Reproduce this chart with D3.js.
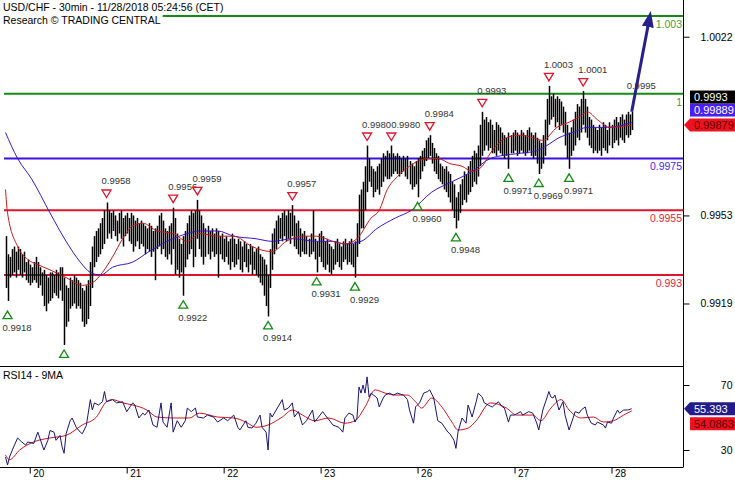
<!DOCTYPE html>
<html><head><meta charset="utf-8">
<script src="https://cdn.jsdelivr.net/npm/d3@7"></script>
<style>
body{margin:0;background:#fff}
svg{display:block}
text{font-family:"Liberation Sans",Arial,sans-serif}
</style>
</head><body>
<svg id="c" width="735" height="480"></svg>
<script>
// ---------- DATA ----------
const highs = [
0.9945,0.9938,0.9937,0.9940,0.9941,0.9939,0.9941,0.9940,0.9938,0.9939,
0.9935,0.9936,0.9934,0.9933,0.9935,0.9937,0.9935,0.9933,0.9931,0.9932,
0.9930,0.9929,0.9931,0.9931,0.9930,0.9932,0.9931,0.9933,0.9933,0.9929,
0.9926,0.9925,0.9929,0.9928,0.9930,0.9929,0.9928,0.9927,0.9925,0.9924,
0.9926,0.9928,0.9935,0.9941,0.9945,0.9947,0.9948,0.9950,0.9952,0.9955,
0.9958,0.9955,0.9954,0.9955,0.9953,0.9951,0.9954,0.9955,0.9952,0.9953,
0.9954,0.9952,0.9954,0.9953,0.9951,0.9952,0.9950,0.9951,0.9950,0.9949,
0.9948,0.9950,0.9949,0.9947,0.9948,0.9949,0.9953,0.9954,0.9951,0.9948,
0.9947,0.9949,0.9950,0.9956,0.9952,0.9946,0.9944,0.9942,0.9945,0.9947,
0.9950,0.9953,0.9955,0.9954,0.9955,0.9959,0.9955,0.9953,0.9950,0.9948,
0.9949,0.9947,0.9948,0.9946,0.9948,0.9947,0.9945,0.9946,0.9944,0.9945,
0.9943,0.9944,0.9946,0.9944,0.9942,0.9944,0.9943,0.9941,0.9943,0.9942,
0.9940,0.9942,0.9941,0.9939,0.9940,0.9941,0.9938,0.9937,0.9936,0.9934,
0.9930,0.9940,0.9946,0.9948,0.9951,0.9953,0.9952,0.9954,0.9955,0.9953,
0.9955,0.9954,0.9957,0.9953,0.9950,0.9951,0.9948,0.9946,0.9947,0.9945,
0.9944,0.9946,0.9955,0.9944,0.9943,0.9946,0.9947,0.9945,0.9943,0.9944,
0.9942,0.9941,0.9940,0.9943,0.9944,0.9942,0.9941,0.9943,0.9944,0.9942,
0.9943,0.9944,0.9942,0.9943,0.9950,0.9961,0.9963,0.9966,0.9972,0.9980,
0.9975,0.9972,0.9971,0.9970,0.9972,0.9973,0.9975,0.9977,0.9976,0.9978,
0.9977,0.9980,0.9977,0.9976,0.9977,0.9976,0.9975,0.9976,0.9975,0.9976,
0.9974,0.9973,0.9972,0.9974,0.9975,0.9976,0.9978,0.9979,0.9982,0.9983,
0.9984,0.9981,0.9979,0.9977,0.9976,0.9973,0.9972,0.9971,0.9972,0.9970,
0.9969,0.9966,0.9965,0.9960,0.9962,0.9965,0.9967,0.9970,0.9969,0.9972,
0.9974,0.9976,0.9978,0.9977,0.9980,0.9988,0.9993,0.9990,0.9991,0.9989,
0.9990,0.9988,0.9986,0.9989,0.9988,0.9987,0.9985,0.9984,0.9983,0.9985,
0.9984,0.9985,0.9986,0.9985,0.9984,0.9986,0.9985,0.9984,0.9986,0.9987,
0.9985,0.9984,0.9985,0.9983,0.9982,0.9981,0.9984,0.9990,0.9998,1.0003,
0.9999,1.0000,0.9998,0.9999,0.9998,0.9997,0.9995,0.9993,0.9988,0.9985,
0.9987,0.9990,0.9993,0.9996,0.9995,0.9998,1.0001,0.9998,0.9995,0.9991,
0.9990,0.9988,0.9987,0.9986,0.9988,0.9987,0.9989,0.9988,0.9986,0.9989,
0.9988,0.9990,0.9991,0.9989,0.9991,0.9992,0.9990,0.9992,0.9993,0.9992,0.9993];

const lows = [
0.9925,0.9920,0.9929,0.9930,0.9931,0.9929,0.9932,0.9930,0.9929,0.9931,
0.9928,0.9927,0.9926,0.9927,0.9928,0.9927,0.9925,0.9926,0.9922,0.9918,
0.9916,0.9919,0.9920,0.9921,0.9923,0.9922,0.9921,0.9924,0.9920,0.9903,
0.9910,0.9912,0.9917,0.9918,0.9919,0.9917,0.9918,0.9917,0.9912,0.9910,
0.9911,0.9913,0.9918,0.9925,0.9933,0.9935,0.9937,0.9938,0.9940,0.9942,
0.9944,0.9946,0.9944,0.9947,0.9945,0.9943,0.9946,0.9944,0.9941,0.9945,
0.9946,0.9943,0.9942,0.9939,0.9941,0.9943,0.9940,0.9942,0.9941,0.9938,
0.9940,0.9939,0.9937,0.9939,0.9928,0.9940,0.9941,0.9938,0.9940,0.9937,
0.9936,0.9938,0.9934,0.9940,0.9930,0.9932,0.9929,0.9931,0.9922,0.9933,
0.9936,0.9938,0.9940,0.9933,0.9937,0.9944,0.9940,0.9937,0.9934,0.9937,
0.9938,0.9936,0.9939,0.9937,0.9938,0.9929,0.9938,0.9936,0.9935,0.9937,
0.9934,0.9932,0.9935,0.9933,0.9934,0.9936,0.9932,0.9931,0.9935,0.9933,
0.9931,0.9934,0.9930,0.9932,0.9930,0.9929,0.9927,0.9926,0.9922,0.9918,
0.9914,0.9925,0.9932,0.9938,0.9940,0.9942,0.9944,0.9943,0.9945,0.9943,
0.9944,0.9942,0.9945,0.9941,0.9940,0.9938,0.9937,0.9939,0.9938,0.9938,
0.9937,0.9938,0.9939,0.9936,0.9931,0.9937,0.9935,0.9933,0.9932,0.9934,
0.9931,0.9930,0.9932,0.9934,0.9935,0.9933,0.9932,0.9935,0.9936,0.9934,
0.9935,0.9934,0.9933,0.9929,0.9937,0.9942,0.9948,0.9948,0.9955,0.9962,
0.9966,0.9964,0.9960,0.9962,0.9963,0.9961,0.9964,0.9966,0.9968,0.9967,
0.9967,0.9968,0.9969,0.9970,0.9969,0.9968,0.9969,0.9970,0.9968,0.9967,
0.9965,0.9963,0.9964,0.9965,0.9960,0.9967,0.9970,0.9972,0.9974,0.9975,
0.9976,0.9973,0.9970,0.9969,0.9967,0.9966,0.9965,0.9963,0.9962,0.9960,
0.9958,0.9955,0.9952,0.9948,0.9951,0.9954,0.9957,0.9959,0.9958,0.9961,
0.9962,0.9964,0.9966,0.9965,0.9968,0.9972,0.9976,0.9978,0.9980,0.9978,
0.9979,0.9977,0.9977,0.9976,0.9978,0.9977,0.9976,0.9975,0.9976,0.9971,
0.9977,0.9977,0.9978,0.9976,0.9977,0.9978,0.9977,0.9976,0.9977,0.9978,
0.9976,0.9975,0.9976,0.9973,0.9969,0.9971,0.9973,0.9976,0.9982,0.9988,
0.9990,0.9991,0.9987,0.9989,0.9986,0.9988,0.9985,0.9980,0.9975,0.9971,
0.9976,0.9978,0.9980,0.9983,0.9982,0.9985,0.9988,0.9985,0.9983,0.9980,
0.9979,0.9977,0.9978,0.9977,0.9978,0.9976,0.9979,0.9978,0.9977,0.9980,
0.9979,0.9981,0.9982,0.9980,0.9983,0.9982,0.9981,0.9984,0.9983,0.9984,0.9986];

const lastClose = 0.9993;

// moving averages: [bar index, value]
const maFast = [[0,0.9963],[1,0.9954],[6,0.9941],[11,0.9936],[16,0.9934],[22,0.9932],[30,0.9929],[38,0.9926],[43,0.9927],[48,0.9931],[53,0.9937],[58,0.9944],[63,0.9949],[68,0.9950],[75,0.9947],[83,0.9946],[90,0.9943],[96,0.9946],[105,0.9945],[113,0.9945],[122,0.9941],[132,0.9939],[139,0.9943],[147,0.9945],[154,0.9945],[162,0.9943],[168,0.9942],[174,0.9944],[181,0.9952],[185,0.9955],[189,0.9963],[194,0.9968],[200,0.9972],[209,0.9975],[214,0.9975],[220,0.9973],[226,0.9972],[231,0.9970],[236,0.9972],[240,0.9977],[248,0.9983],[255,0.9984],[261,0.9983],[266,0.9982],[273,0.9987],[279,0.9989],[284,0.9991],[288,0.9993],[293,0.9990],[299,0.9987],[310,0.99879]];
const maSlow = [[0,0.9985],[6,0.9975],[13,0.9967],[22,0.9954],[30,0.9943],[37,0.9935],[42,0.9931],[47,0.9930],[53,0.9933],[63,0.9935],[71,0.9939],[80,0.9943],[90,0.9946],[96,0.9947],[105,0.9947],[113,0.9945],[124,0.9944],[132,0.9943],[142,0.9944],[154,0.9943],[162,0.9943],[168,0.9942],[176,0.9943],[184,0.9948],[193,0.9952],[201,0.9955],[211,0.9962],[221,0.9966],[231,0.9970],[240,0.9975],[245,0.9976],[255,0.9977],[263,0.9978],[268,0.9980],[274,0.9983],[281,0.9985],[288,0.9987],[298,0.9987],[310,0.99889]];

// pivot markers (type H = high, L = low, N = label only)
const markerIdx  = [1,29,50,83,88,95,130,142,154,173,179,191,204,210,223,236,249,264,269,279,286,310];
const markerType = ["L","L","H","H","L","H","L","H","L","L","H","H","L","H","L","H","L","L","H","L","H","N"];
const markerVal  = [0.9918,0.9903,0.9958,0.9956,0.9922,0.9959,0.9914,0.9957,0.9931,0.9929,0.9980,0.9980,0.9960,0.9984,0.9948,0.9993,0.9971,0.9969,1.0003,0.9971,1.0001,0.9995];

// horizontal levels
const levelVals   = [1.003, 1.0, 0.9975, 0.9955, 0.993];
const levelLabels = ["1.003","1","0.9975","0.9955","0.993"];
const levelKind   = ["res","res","pivot","sup","sup"];
const targetVal = 1.003;
const targetIdx = 319;

// RSI
const rsi = [[0,25.7],[1,20.8],[2,25.7],[4,31.8],[6,37.4],[8,35],[10,33],[11,35],[14,34],[16,41],[17,37.4],[19,30],[21,36],[22,42],[24,41],[25,36],[27,39],[28,32],[29,28],[30,40],[32,48],[33,49.7],[35,44],[37,41],[38,40],[40,45],[42,61],[43,54.6],[44,59],[46,57.7],[48,59.7],[49,66],[50,59.7],[53,61],[55,59],[58,59.7],[60,53.6],[63,59],[64,57.7],[66,49.7],[68,52.7],[69,51.5],[71,54.6],[73,45.4],[75,44],[77,59],[78,47.2],[80,44],[82,59],[83,41],[85,48],[87,44],[89,48],[90,55.8],[92,53.6],[94,55.8],[95,50.3],[98,49.7],[100,51.5],[103,50.3],[105,47.2],[108,49.7],[110,48],[113,51.5],[115,44],[116,42.3],[119,48],[120,44],[122,43.5],[124,46.5],[126,51.5],[127,44],[129,41],[130,30],[131,52.7],[132,50.3],[134,54.6],[137,61],[138,54.6],[140,55.8],[142,59],[143,50.3],[145,53.6],[147,45.4],[149,48],[152,54.6],[153,47.2],[155,50.3],[157,53.6],[159,50.3],[161,47.2],[162,45.4],[165,44],[167,41],[168,49.7],[170,52.7],[172,51.5],[173,47.2],[174,49.7],[175,68.8],[176,65],[177,70],[178,65],[179,75],[180,62.6],[181,65],[184,62],[185,56.5],[187,62],[188,63.8],[190,65],[192,63.8],[194,65],[197,63.8],[199,61],[200,54.6],[202,46.5],[203,56.5],[205,59],[207,65],[209,66],[210,67],[212,62],[214,48],[216,46.5],[219,41],[220,40],[222,36],[223,31],[224,41],[226,49.7],[228,46.5],[229,57.7],[231,50.3],[233,59.7],[234,65],[236,62.6],[237,59],[240,57],[241,56.5],[244,59.7],[246,56.5],[247,55.8],[249,47.2],[250,51.5],[252,51.5],[255,53.6],[256,51.5],[259,53.6],[261,52.7],[263,46.5],[264,42.3],[266,54.6],[268,62],[269,66],[270,62.6],[271,62],[272,63.8],[274,54.6],[276,59.7],[277,51.5],[279,42.3],[281,49.7],[282,53.6],[284,52.7],[285,54.6],[287,56.5],[288,51.5],[290,46.5],[292,45.4],[293,47.2],[296,45.4],[297,43.5],[298,47.2],[300,46.5],[301,49.7],[303,54.6],[304,52.7],[306,54.6],[308,54.6],[310,55.393]];
const rsiMA = [[0,27],[2,24],[7,30],[14,35],[22,37.4],[30,39],[38,45.4],[45,50.3],[50,59.7],[53,61],[58,59],[63,57.7],[70,54.6],[75,50.3],[83,49.7],[91,49.7],[96,52.7],[105,50.3],[113,49.7],[119,47.2],[124,44],[130,45.4],[137,50.3],[142,54.6],[147,51.5],[153,48],[160,49.7],[168,46.5],[173,48],[178,56.5],[183,67],[188,65],[193,63.8],[199,63.8],[203,59.7],[206,55.8],[211,62],[216,56.5],[221,47.2],[224,42.3],[229,43.5],[233,48],[240,59],[248,55.8],[253,51.5],[261,51.5],[265,48],[270,55.8],[275,61],[279,54.6],[285,49.7],[291,50.3],[296,47.2],[301,48],[306,51.5],[310,54.0863]];
const rsiLast = 55.393, rsiMALast = 54.0863;

// axes
const dayTicks  = [12,60,108,156,204,252,300];
const dayLabels = ["20","21","22","23","26","27","28"];
const priceTicks = [1.0022, 0.9953, 0.9919];
const rsiTicks = [70, 30];

const title1 = "USD/CHF - 30min - 11/28/2018 05:24:56 (CET)";
const title2 = "Research \u00A9 TRADING CENTRAL";
const rsiTitle = "RSI14 - 9MA";

// ---------- DRAW ----------
const svg = d3.select("#c");
const W = 735, AX = 683, MAIN_B = 366, RSI_B = 467;
const COL = {res:"#168a16", pivot:"#3c10dc", sup:"#e0142c"};
const TXT = {res:"#3f9f3f", pivot:"#4a2ae6", sup:"#e8243c"};

const x = d3.scaleLinear().domain([0, 310]).range([5.5, 631.7]);
const y = d3.scaleLinear().domain([0.993, 1.003]).range([275, 16]);
const yR = d3.scaleLinear().domain([30, 70]).range([450, 385]);

const defs = svg.append("defs");
defs.append("clipPath").attr("id","cm").append("rect").attr("x",0).attr("y",0).attr("width",AX).attr("height",MAIN_B);
defs.append("clipPath").attr("id","cr").append("rect").attr("x",0).attr("y",MAIN_B+1).attr("width",AX).attr("height",RSI_B-MAIN_B-1);
defs.append("marker").attr("id","ah").attr("viewBox","0 0 16 12").attr("refX",11).attr("refY",6)
  .attr("markerWidth",16).attr("markerHeight",12).attr("markerUnits","userSpaceOnUse").attr("orient","auto")
  .append("path").attr("d","M0,0L16,6L0,12Z").attr("fill","#27208c");

const main = svg.append("g").attr("clip-path","url(#cm)");

// levels
main.selectAll("line.lvl").data(levelVals).join("line")
  .attr("x1",4).attr("x2",AX).attr("y1",d=>y(d)).attr("y2",d=>y(d))
  .attr("stroke",(d,i)=>COL[levelKind[i]]).attr("stroke-width",2);

// bars
main.append("g").selectAll("line").data(highs).join("line")
  .attr("x1",(d,i)=>Math.round(x(i))+0.5).attr("x2",(d,i)=>Math.round(x(i))+0.5)
  .attr("y1",d=>y(d)).attr("y2",(d,i)=>y(lows[i]))
  .attr("stroke","#000").attr("stroke-width",1.5);

// MAs
const ln = d3.line().x(d=>x(d[0])).y(d=>y(d[1])).curve(d3.curveMonotoneX);
main.append("path").attr("d",ln(maSlow)).attr("fill","none").attr("stroke","#3a16c8").attr("stroke-width",1);
main.append("path").attr("d",ln(maFast)).attr("fill","none").attr("stroke","#c81a1a").attr("stroke-width",1);

// markers
const fmt = d3.format(".4f");
let prev = null;
markerIdx.forEach((bi,k)=>{
  const cx = x(bi), vy = y(markerVal[k]), t = markerType[k];
  if (t==="H"){
    const cy = vy-9;
    main.append("path").attr("d",`M${cx-4.5},${cy-3.5}L${cx+4.5},${cy-3.5}L${cx},${cy+4}Z`)
      .attr("fill","#fff").attr("stroke","#e0142c").attr("stroke-width",1.3);
  } else if (t==="L"){
    const cy = vy+9;
    main.append("path").attr("d",`M${cx-4.5},${cy+3.5}L${cx+4.5},${cy+3.5}L${cx},${cy-4}Z`)
      .attr("fill","#fff").attr("stroke","#168a16").attr("stroke-width",1.3);
  }
  const ly = t==="L" ? vy+25 : vy-18;
  if (ly > MAIN_B - 2) return; // label falls outside the price panel
  let lx = cx-5;
  if (prev && Math.abs(prev.y-ly) < 10 && lx < prev.right) lx = prev.right;
  const tx = main.append("text").attr("x",lx).attr("y",ly)
    .attr("font-size","9.5px").attr("fill","#333").text(fmt(markerVal[k]));
  prev = {y: ly, right: lx + tx.node().getComputedTextLength()};
});

// target arrow
main.append("line").attr("x1",x(310)).attr("y1",y(lastClose)).attr("x2",x(targetIdx)).attr("y2",y(targetVal))
  .attr("stroke","#27208c").attr("stroke-width",3).attr("marker-end","url(#ah)");

// level labels
svg.selectAll("text.lvl").data(levelVals).join("text")
  .attr("x",AX-1).attr("y",d=>y(d)+12).attr("text-anchor","end")
  .attr("font-size","10.5px").attr("fill",(d,i)=>TXT[levelKind[i]]).text((d,i)=>levelLabels[i]);

// header
const hdr = svg.append("g");
const t2 = hdr.append("text").attr("x",3).attr("y",24).attr("font-size","10.5px").attr("fill","#000").text(title2);
const bb = t2.node().getBBox();
hdr.insert("rect", () => t2.node()).attr("x",0).attr("y",bb.y).attr("width",bb.x+bb.width+2).attr("height",bb.height).attr("fill","#fff");
hdr.append("text").attr("x",3).attr("y",11).attr("font-size","10.5px").attr("fill","#000").text(title1);

// RSI panel
const rg = svg.append("g").attr("clip-path","url(#cr)");
rg.append("path").attr("d",d3.line().x(d=>x(d[0])).y(d=>yR(d[1])).curve(d3.curveMonotoneX)(rsiMA))
  .attr("fill","none").attr("stroke","#d0141c").attr("stroke-width",1);
rg.append("path").attr("d",d3.line().x(d=>x(d[0])).y(d=>yR(d[1]))(rsi))
  .attr("fill","none").attr("stroke","#1c1470").attr("stroke-width",1);
svg.append("text").attr("x",3).attr("y",379).attr("font-size","10.5px").attr("fill","#000").text(rsiTitle);

// frames
svg.append("line").attr("x1",0).attr("x2",AX).attr("y1",MAIN_B+0.5).attr("y2",MAIN_B+0.5).attr("stroke","#000");
svg.append("line").attr("x1",0).attr("x2",AX).attr("y1",RSI_B+0.5).attr("y2",RSI_B+0.5).attr("stroke","#000");
svg.append("line").attr("x1",AX+0.5).attr("x2",AX+0.5).attr("y1",0).attr("y2",RSI_B+0.5).attr("stroke","#000");

// right axes
function styleAxis(g){ g.select(".domain").remove(); g.selectAll("text").attr("font-size","10.5px").attr("font-family","Liberation Sans, Arial, sans-serif").attr("fill","#000"); }
svg.append("g").attr("transform",`translate(${AX+0.5},0)`)
  .call(d3.axisRight(y).tickValues(priceTicks).tickSize(6).tickFormat(d3.format(".4f")))
  .call(styleAxis).call(g=>g.selectAll("text").attr("x",49).attr("text-anchor","end"));
svg.append("g").attr("transform",`translate(${AX+0.5},0)`)
  .call(d3.axisRight(yR).tickValues(rsiTicks).tickSize(6).tickFormat(d3.format("d")))
  .call(styleAxis).call(g=>g.selectAll("text").attr("x",49).attr("text-anchor","end"));

// bottom date axis
svg.append("g").attr("transform",`translate(0,${RSI_B+0.5})`)
  .call(d3.axisBottom(x).tickValues(dayTicks).tickSize(6).tickFormat((d,i)=>dayLabels[i]))
  .call(styleAxis).call(g=>g.selectAll("text").attr("x",3).attr("y",2).attr("text-anchor","start").attr("font-size","10px"));

// value tags
function tag(cy, txt, bg, fg, arrow){
  const g = svg.append("g");
  if (arrow) g.append("path").attr("d",`M${AX+1},${cy}L${AX+7},${cy-6.5}L${W},${cy-6.5}L${W},${cy+6.5}L${AX+7},${cy+6.5}Z`).attr("fill",bg);
  else g.append("rect").attr("x",AX+7).attr("y",cy-6.5).attr("width",W-AX-7).attr("height",13).attr("fill",bg);
  g.append("text").attr("x",AX+11).attr("y",cy+4).attr("font-size","11px").attr("fill",fg).text(txt);
}
const redV = maFast[maFast.length-1][1], blueV = maSlow[maSlow.length-1][1];
const redY = y(redV);
tag(redY, String(redV), "#ee1220", "#5a0000", true);
tag(redY-15, String(blueV), "#4a1ef5", "#fff", false);
tag(redY-28, String(lastClose), "#000", "#fff", false);
const rsiY = yR(rsiLast);
tag(rsiY, String(rsiLast), "#221c8a", "#fff", true);
tag(rsiY+15, String(rsiMALast), "#ee1220", "#5a0000", false);
</script>
</body></html>
